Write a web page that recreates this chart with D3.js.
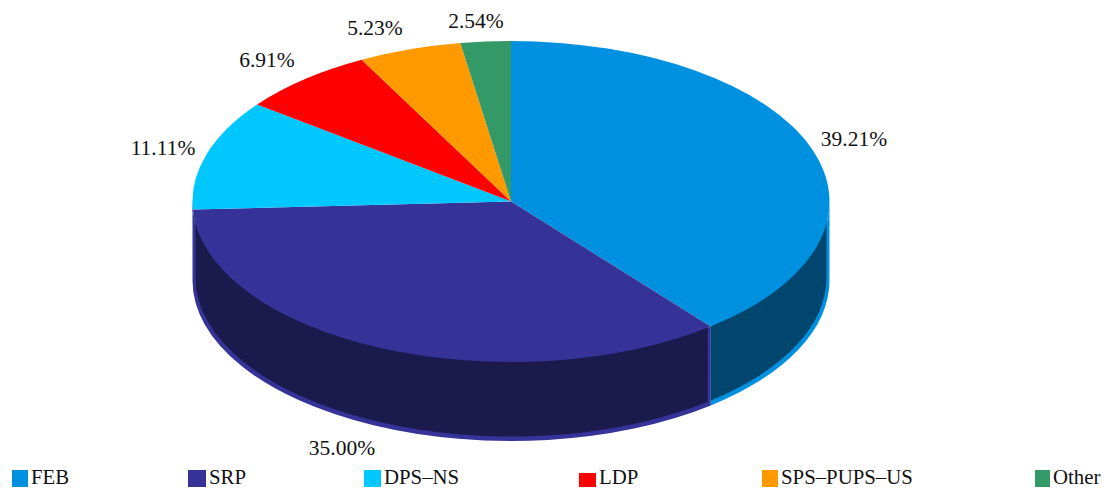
<!DOCTYPE html>
<html><head><meta charset="utf-8">
<script src="https://cdn.jsdelivr.net/npm/d3@7"></script>
<style>html,body{margin:0;background:#fff}svg{display:block}text{font-family:"Liberation Serif",serif;fill:#111}</style>
</head><body><script>
const categories = ["FEB","SRP","DPS–NS","LDP","SPS–PUPS–US","Other"];
const shares = [39.21,35.00,11.11,6.91,5.23,2.54];
const topColors = ["#0090e0","#353397","#00c8ff","#ff0000","#ff9900","#339966"];
const wallColors = ["#00466e","#1a1a4c","#00627d","#7d0000","#7d4b00","#194b32"];

const W=1104,H=489,cx=511,cy=201.5,rx=318.5,ry=160.5,depth=79,band=3,divider=3;
const svg=d3.select("body").append("svg").attr("width",W).attr("height",H);
const pie=d3.pie().sort(null).value(d=>d)(shares);

function wall(a0,a1,inset){
  const r=rx-inset, q=ry-inset*0.5, d=depth-inset;
  const px=a=>cx+r*Math.sin(a), py=a=>cy-q*Math.cos(a);
  return `M${px(a0)},${py(a0)}A${r},${q} 0 0 1 ${px(a1)},${py(a1)}`+
         `L${px(a1)},${py(a1)+d}A${r},${q} 0 0 0 ${px(a0)},${py(a0)+d}Z`;
}
const HALF=Math.PI/2;
const visible=pie.map((s,i)=>({i,a0:Math.max(s.startAngle,HALF),a1:Math.min(s.endAngle,3*HALF)}))
  .filter(w=>w.a1-w.a0>0.1);
// the left silhouette belongs to the last visible slice
visible[visible.length-1].a1=3*HALF;
const walls=svg.append("g");
visible.forEach(w=>{
  walls.append("path").attr("d",wall(w.a0,w.a1,0)).attr("fill",topColors[w.i]);
});
// angle on the inset ellipse that lands at the same x as the slice boundary (minus an offset)
const insetAngle=(a,off)=>Math.PI-Math.asin((rx*Math.sin(a)-off)/(rx-band));
visible.forEach((w,k)=>{
  const a0=k===1?insetAngle(w.a0,divider):w.a0;
  const a1=k===0?insetAngle(w.a1,0):w.a1;
  walls.append("path").attr("d",wall(a0,a1,band)).attr("fill",wallColors[w.i]);
});
// top face
const arc=d3.arc().innerRadius(0).outerRadius(1);
const face=svg.append("g").attr("transform",`translate(${cx},${cy}) scale(${rx},${ry})`);
face.selectAll("path").data(pie).join("path").attr("d",arc)
  .attr("fill",(d,i)=>topColors[i]);
// labels
const pctLabels=shares.map(v=>v.toFixed(2)+"%");
const labelX=[854,342,163,267,375,476], labelY=[146,455,155,67,35,28];
svg.append("g").selectAll("text").data(pctLabels).join("text")
  .attr("x",(d,i)=>labelX[i]).attr("y",(d,i)=>labelY[i])
  .attr("text-anchor","middle").attr("font-size",21.5).text(d=>d);
// legend
const swatchX=[12,188,364,579,762,1035], swatchW=[16,18,17,17,16,15], swatchTop=[470,470,470,473,470,470];
const lg=svg.append("g").selectAll("g").data(categories).join("g");
lg.append("rect").attr("x",(d,i)=>swatchX[i]).attr("y",(d,i)=>swatchTop[i])
  .attr("width",(d,i)=>swatchW[i]).attr("height",(d,i)=>487-swatchTop[i]).attr("fill",(d,i)=>topColors[i]);
lg.append("text").attr("x",(d,i)=>swatchX[i]+swatchW[i]+3).attr("y",484).attr("font-size",20.8).text(d=>d);
</script></body></html>
